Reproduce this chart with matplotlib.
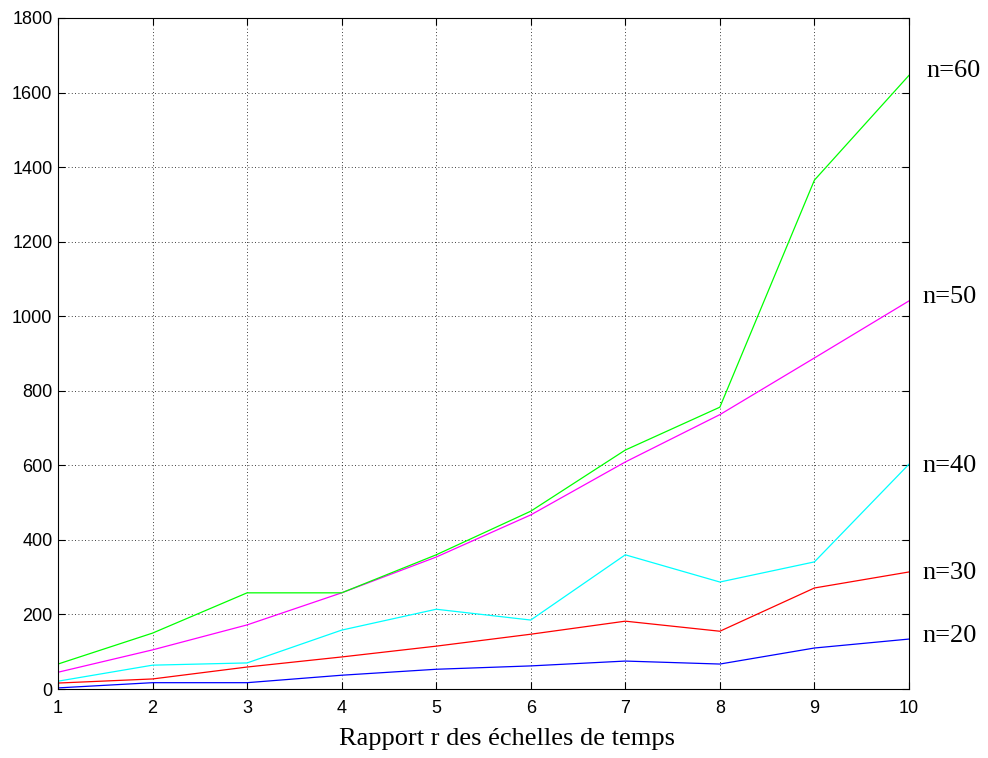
import matplotlib; matplotlib.use("Agg")
import matplotlib.pyplot as plt

r = [1, 2, 3, 4, 5, 6, 7, 8, 9, 10]
n20 = [3, 17, 17, 37, 53, 62, 75, 67, 110, 134]
n30 = [16, 27, 59, 86, 115, 147, 182, 155, 271, 314]
n40 = [21, 64, 70, 158, 214, 185, 360, 287, 341, 603]
n50 = [45, 105, 172, 258, 354, 467, 609, 736, 888, 1041]
n60 = [67, 150, 258, 258, 360, 477, 641, 756, 1365, 1646]
# (label, values, colour, label offset in points x/y)
series = [("n=20", n20, "#0000ff", (9.5, 2)), ("n=30", n30, "#ff0000", (9.5, -1)),
          ("n=40", n40, "#00ffff", (9.5, -1)), ("n=50", n50, "#ff00ff", (9.5, 3)),
          ("n=60", n60, "#00ff00", (12.5, 3))]

fig = plt.figure(figsize=(9.88, 7.58), dpi=100)
ax = fig.add_axes([0.0587, 0.091, 0.8613, 0.8853])
for name, vals, col, off in series:
    ax.plot(r, vals, color=col, lw=0.9)
    ax.annotate(name, (10, vals[-1]), xytext=off, textcoords="offset points",
                va="center", ha="left", fontsize=19, family="Liberation Serif", annotation_clip=False)

ax.set_xlim(1, 10); ax.set_ylim(0, 1800)
ax.set_xticks(r); ax.set_yticks(range(0, 1801, 200))
ax.grid(True, color="black", ls=(0, (1, 3)), lw=0.6)
ax.tick_params(direction="in", top=True, right=True, length=5, labelsize=13)
ax.tick_params(axis="x", pad=8)
ax.tick_params(axis="y", pad=4)
for lab in ax.get_xticklabels() + ax.get_yticklabels():
    lab.set_family("Liberation Sans")
ax.set_xlabel("Rapport r des échelles de temps", family="Liberation Serif", fontsize=19, va="center")
ax.xaxis.set_label_coords((507 - 58) / 851, -0.075)
fig.savefig("out.png", dpi=100)
